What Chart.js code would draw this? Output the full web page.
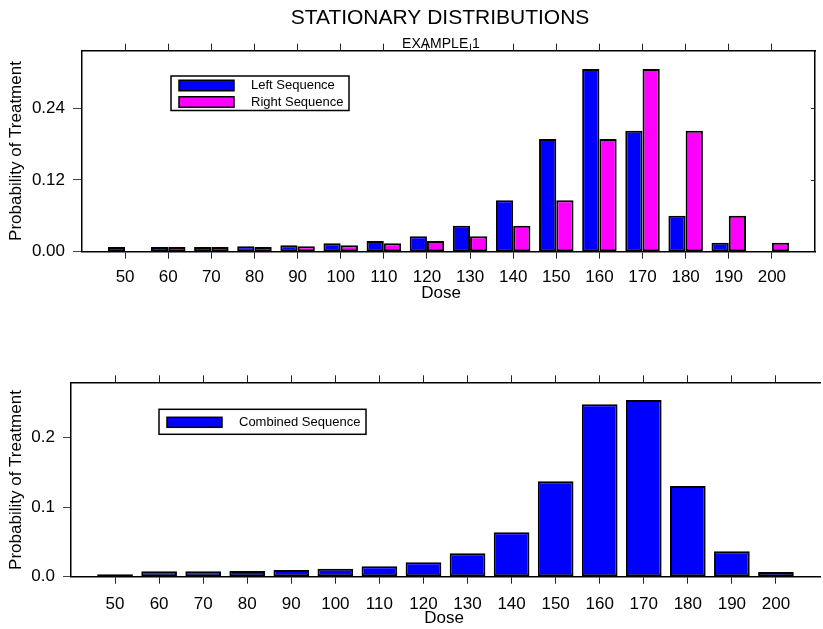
<!DOCTYPE html>
<html>
<head>
<meta charset="utf-8">
<script src="https://cdn.jsdelivr.net/npm/chart.js@4/dist/chart.umd.min.js"></script>
<style>
  html, body { margin: 0; padding: 0; background: #fff; width: 823px; height: 629px; overflow: hidden; }
  #wrap { position: relative; width: 823px; height: 629px; overflow: hidden; }
  #topChart { position: absolute; left: 0; top: 0; }
  #botChart { position: absolute; left: 0; top: 310px; }
</style>
</head>
<body>
<div id="wrap">
  <canvas id="topChart" width="823" height="310"></canvas>
  <canvas id="botChart" width="830" height="319"></canvas>
</div>
<script>
// Dose levels and stationary probabilities
const doses = [50, 60, 70, 80, 90, 100, 110, 120, 130, 140, 150, 160, 170, 180, 190, 200];
const leftSeq = [0.008, 0.008, 0.008, 0.009, 0.011, 0.014, 0.018, 0.026, 0.0435, 0.086, 0.1886, 0.3058, 0.2025, 0.0603, 0.015, 0];
const rightSeq = [0, 0.008, 0.008, 0.008, 0.009, 0.011, 0.014, 0.018, 0.026, 0.0435, 0.086, 0.1886, 0.3058, 0.2025, 0.0603, 0.015];
const combinedSeq = [0.0035, 0.0078, 0.0078, 0.0083, 0.0096, 0.0115, 0.015, 0.0207, 0.0337, 0.0639, 0.1373, 0.248, 0.2542, 0.1305, 0.0365, 0.0068];

// Axis ticks
const doseRange = [40, 210];
const topYTicks = [0, 0.12, 0.24];
const topYLabels = ['0.00', '0.12', '0.24'];
const botYTicks = [0, 0.1, 0.2];
const botYLabels = ['0.0', '0.1', '0.2'];

const FONT = "'Liberation Sans', Arial, Helvetica, sans-serif";
Chart.defaults.font.family = FONT;
Chart.defaults.color = '#000';

const toPoints = (vals) => doses.map((d, i) => ({ x: d, y: vals[i] }));
const edgeTick = (c) => (c.tick && (c.tick.value === doseRange[0] || c.tick.value === doseRange[1])) ? 'rgba(0,0,0,0)' : '#222';

// Legend drawn as a framed box inside the plot area
const boxLegend = {
  id: 'boxLegend',
  afterDraw(chart, args, o) {
    const ctx = chart.ctx;
    ctx.save();
    ctx.lineWidth = 1.5;
    ctx.strokeStyle = '#000';
    ctx.strokeRect(o.x, o.y, o.w, o.h);
    chart.data.datasets.forEach((ds, i) => {
      const cy = o.rows[i];
      ctx.fillStyle = ds.backgroundColor;
      ctx.fillRect(o.swatchX, cy - o.swatchH / 2, o.swatchW, o.swatchH);
      ctx.strokeRect(o.swatchX, cy - o.swatchH / 2, o.swatchW, o.swatchH);
      ctx.fillStyle = '#000';
      ctx.font = o.font;
      ctx.textBaseline = 'middle';
      ctx.textAlign = 'left';
      ctx.fillText(ds.label, o.textX, cy);
    });
    ctx.restore();
  }
};

// Free-standing titles (main title, subtitle, axis titles)
const freeText = {
  id: 'freeText',
  afterDraw(chart, args, o) {
    const ctx = chart.ctx;
    (o.items || []).forEach(it => {
      ctx.save();
      ctx.fillStyle = '#000';
      ctx.font = it.font;
      ctx.textAlign = 'center';
      ctx.textBaseline = 'middle';
      ctx.translate(it.x, it.y);
      if (it.rotate) ctx.rotate(it.rotate);
      ctx.fillText(it.text, 0, 0);
      ctx.restore();
    });
  }
};

// Short inward tick marks on the right frame edge
const rightTicks = {
  id: 'rightTicks',
  afterDraw(chart, args, o) {
    if (!o.values) return;
    const ctx = chart.ctx, y = chart.scales.y, r = chart.chartArea.right;
    ctx.save();
    ctx.strokeStyle = '#222';
    ctx.lineWidth = 1;
    o.values.forEach(v => {
      const py = Math.round(y.getPixelForValue(v)) + 0.5;
      ctx.beginPath();
      ctx.moveTo(r, py);
      ctx.lineTo(r - o.len, py);
      ctx.stroke();
    });
    ctx.restore();
  }
};

function makeScales(cfg) {
  return {
    x: {
      type: 'linear', position: 'bottom',
      min: doseRange[0], max: doseRange[1], offset: false,
      afterFit: s => { s.height = cfg.bottomH; },
      ticks: {
        stepSize: 10, autoSkip: false, maxRotation: 0, padding: cfg.xPad,
        font: { size: 17 }, color: '#000',
        callback: v => (v === doseRange[0] || v === doseRange[1]) ? '' : String(v)
      },
      grid: { offset: false, drawOnChartArea: false, tickLength: 7, color: edgeTick, tickColor: edgeTick, lineWidth: 1 },
      border: { color: '#000', width: 1.5 }
    },
    xTop: {
      type: 'linear', position: 'top',
      min: doseRange[0], max: doseRange[1], offset: false,
      afterFit: s => { s.height = cfg.topH; },
      ticks: { stepSize: 10, display: false },
      grid: { offset: false, drawOnChartArea: false, tickLength: 7, color: edgeTick, tickColor: edgeTick, lineWidth: 1 },
      border: { color: '#000', width: 1.5 }
    },
    y: {
      type: 'linear', position: 'left',
      min: 0, max: cfg.yMax,
      afterFit: s => { s.width = cfg.leftW; },
      afterBuildTicks: s => { s.ticks = cfg.yTicks.map(v => ({ value: v })); },
      ticks: {
        padding: 8, font: { size: 17 }, color: '#000',
        callback: v => cfg.yLabels[cfg.yTicks.indexOf(v)]
      },
      grid: { drawOnChartArea: false, tickLength: cfg.yTickLen, color: '#444', lineWidth: 1 },
      border: { color: '#000', width: 1.5 }
    },
    yRight: {
      type: 'linear', position: 'right',
      min: 0, max: cfg.yMax,
      display: cfg.rightFrame,
      afterFit: s => { s.width = cfg.rightW; },
      ticks: { display: false },
      grid: { display: false },
      border: { display: cfg.rightFrame, color: '#000', width: 1.5 }
    }
  };
}

const barStyle = (catPct) => ({
  borderColor: '#000', borderWidth: 2, borderSkipped: false,
  categoryPercentage: catPct, barPercentage: 1.0
});

// Upper panel: left and right sequences
new Chart(document.getElementById('topChart'), {
  type: 'bar',
  data: {
    datasets: [
      Object.assign({ label: 'Left Sequence', data: toPoints(leftSeq), backgroundColor: '#0000ff' }, barStyle(0.8)),
      Object.assign({ label: 'Right Sequence', data: toPoints(rightSeq), backgroundColor: '#ff00ff' }, barStyle(0.8))
    ]
  },
  options: {
    responsive: false, animation: false, devicePixelRatio: 1,
    layout: { padding: 0 },
    scales: makeScales({
      bottomH: 58.3, topH: 50.7, leftW: 82, rightW: 7, rightFrame: true,
      yMax: Math.max(...leftSeq, ...rightSeq) * 1.1,
      yTicks: topYTicks, yLabels: topYLabels, yTickLen: 9, xPad: 8
    }),
    plugins: {
      legend: { display: false }, tooltip: { enabled: false },
      boxLegend: { x: 171, y: 76, w: 178, h: 34.5, swatchX: 179, swatchW: 55, swatchH: 10.5, rows: [85.5, 102], textX: 251, font: `13px ${FONT}` },
      freeText: { items: [
        { text: 'STATIONARY DISTRIBUTIONS', x: 440, y: 18, font: `21px ${FONT}` },
        { text: 'EXAMPLE 1', x: 441, y: 44, font: `14px ${FONT}` },
        { text: 'Dose', x: 441, y: 293, font: `17px ${FONT}` },
        { text: 'Probability of Treatment', x: 16, y: 151, rotate: -Math.PI / 2, font: `17px ${FONT}` }
      ] },
      rightTicks: { values: [0.12, 0.24], len: 4 }
    }
  },
  plugins: [boxLegend, freeText, rightTicks]
});

// Lower panel: combined sequence
new Chart(document.getElementById('botChart'), {
  type: 'bar',
  data: {
    datasets: [
      Object.assign({ label: 'Combined Sequence', data: toPoints(combinedSeq), backgroundColor: '#0000ff' }, barStyle(0.81))
    ]
  },
  options: {
    responsive: false, animation: false, devicePixelRatio: 1,
    layout: { padding: { left: 0, right: 4, top: 0, bottom: 0 } },
    scales: makeScales({
      bottomH: 52.3, topH: 72.3, leftW: 71, rightW: 0, rightFrame: false,
      yMax: Math.max(...combinedSeq) * 1.1,
      yTicks: botYTicks, yLabels: botYLabels, yTickLen: 8, xPad: 10
    }),
    plugins: {
      legend: { display: false }, tooltip: { enabled: false },
      boxLegend: { x: 159, y: 99.3, w: 207, h: 25, swatchX: 167, swatchW: 55, swatchH: 10, rows: [112.3], textX: 239, font: `13px ${FONT}` },
      freeText: { items: [
        { text: 'Dose', x: 444, y: 308, font: `17px ${FONT}` },
        { text: 'Probability of Treatment', x: 16, y: 170, rotate: -Math.PI / 2, font: `17px ${FONT}` }
      ] }
    }
  },
  plugins: [boxLegend, freeText]
});
</script>
</body>
</html>
